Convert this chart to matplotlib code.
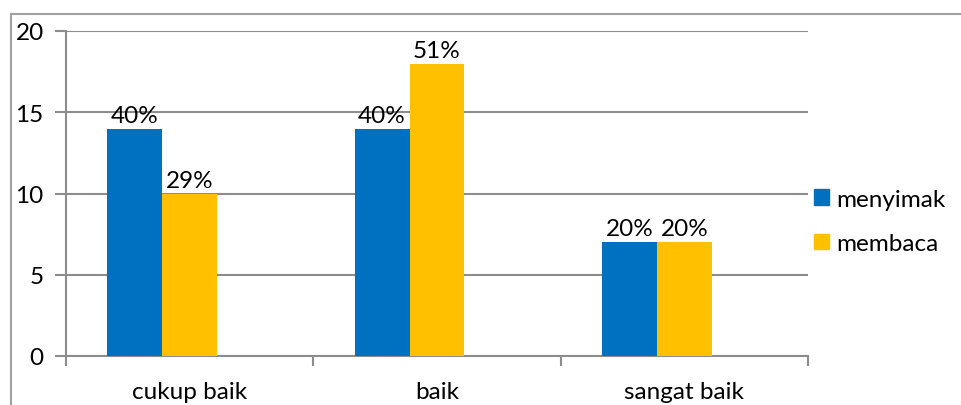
import matplotlib
matplotlib.use("Agg")
import matplotlib.pyplot as plt
from matplotlib.lines import Line2D
from matplotlib.patches import Patch

categories = ["cukup baik", "baik", "sangat baik"]
menyimak = [14, 14, 7]
membaca = [10, 18, 7]
menyimak_labels = ["40%", "40%", "20%"]
membaca_labels = ["29%", "51%", "20%"]
yticks = [0, 5, 10, 15, 20]

BLUE = "#0070C0"
YELLOW = "#FFC000"
GRID = "#8C8C8C"

plt.rcParams['font.family'] = ['Lato', 'DejaVu Sans']

W, H = 962, 406
fig = plt.figure(figsize=(W / 100, H / 100), dpi=100)
ax = fig.add_axes([66 / W, 1 - 357 / H, (808 - 66) / W, (357 - 32) / H])

n = len(categories)
w = 1 / 4.5
xs = list(range(n))
x_blue = [x - 0.5 + 1.25 * w for x in xs]
x_yel = [x - 0.5 + 2.25 * w for x in xs]
ax.bar(x_blue, menyimak, width=w, color=BLUE, zorder=3)
ax.bar(x_yel, membaca, width=w, color=YELLOW, zorder=3)

fs = 17.5
for xb, v, lab in zip(x_blue, menyimak, menyimak_labels):
    ax.annotate(lab, (xb, v), xytext=(0, 2), textcoords="offset points",
                ha="center", va="bottom", fontsize=fs, zorder=4)
for xb, v, lab in zip(x_yel, membaca, membaca_labels):
    ax.annotate(lab, (xb, v), xytext=(0, 2), textcoords="offset points",
                ha="center", va="bottom", fontsize=fs, zorder=4)

ax.set_xlim(-0.5, n - 0.5)
ax.set_ylim(0, 20)
ax.set_yticks(yticks)
ax.set_yticklabels([str(t) for t in yticks], fontsize=fs)
ax.yaxis.grid(True, color=GRID, linewidth=1.5, zorder=0)
ax.set_xticks(xs)
ax.set_xticklabels(categories, fontsize=fs)
ax.tick_params(axis="x", length=0, pad=18)
ax.set_xticks([x - 0.5 for x in range(n + 1)], minor=True)
ax.tick_params(axis="x", which="minor", length=7, width=1.5, color=GRID, direction="out")
ax.tick_params(axis="y", length=8, width=1.5, color=GRID, pad=8)

for s in ["top", "right"]:
    ax.spines[s].set_visible(False)
for s in ["left", "bottom"]:
    ax.spines[s].set_color(GRID)
    ax.spines[s].set_linewidth(1.5)

handles = [Patch(color=BLUE, label="menyimak"), Patch(color=YELLOW, label="membaca")]
fig.legend(handles=handles, loc="upper left", bbox_to_anchor=(792 / W, 1 - 168 / H),
           frameon=False, fontsize=fs, handlelength=0.62, handleheight=0.62,
           handletextpad=0.3, labelspacing=0.95)

fig.add_artist(Line2D([11 / W, 11 / W], [0, 1 - 15 / H], transform=fig.transFigure,
                      color="#A0A0A0", linewidth=1.5))
fig.add_artist(Line2D([11 / W, 1], [1 - 15 / H, 1 - 15 / H], transform=fig.transFigure,
                      color="#A0A0A0", linewidth=1.5))

fig.savefig("out.png", dpi=100)
